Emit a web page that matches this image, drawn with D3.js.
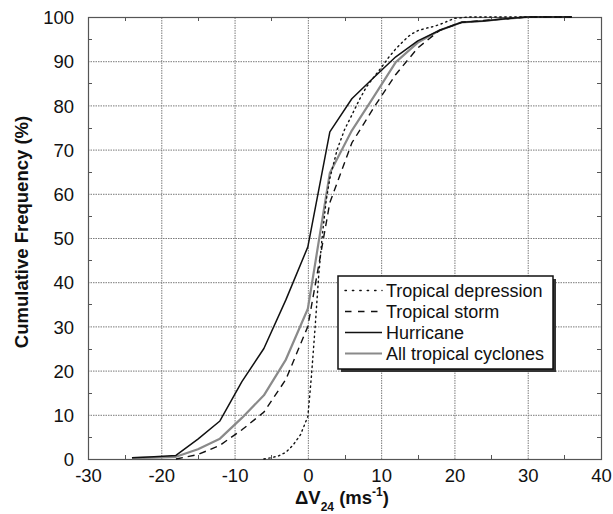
<!DOCTYPE html>
<html>
<head>
<meta charset="utf-8">
<script src="https://cdn.jsdelivr.net/npm/d3@7"></script>
<style>
  html, body { margin: 0; padding: 0; background: #fff; }
  svg { display: block; font-family: "Liberation Sans", Arial, Helvetica, sans-serif; }
  .grid line { stroke: #7a7a7a; stroke-width: 1px; stroke-dasharray: 1.5 1; }
  .grid .domain { display: none; }
</style>
</head>
<body>
<svg id="chart" width="613" height="514"></svg>
<script>
// ---- Data ----
const xTicks = [-30, -20, -10, 0, 10, 20, 30, 40];
const yTicks = [0, 10, 20, 30, 40, 50, 60, 70, 80, 90, 100];
const xMinor = [-25, -15, -5, 5, 15, 25, 35];
const yMinor = [5, 15, 25, 35, 45, 55, 65, 75, 85, 95];

const depressionX = [-6, -5, -4, -3, -2, -1, 0, 0.5, 1, 1.5, 2, 2.5, 3, 4, 5, 6, 7, 8, 9, 10, 11, 12, 13, 14, 15, 16, 17, 18, 19, 20, 22, 24, 27, 30, 33, 36];
const depressionY = [0, 0.3, 0.7, 1.5, 3.2, 5.5, 9.6, 19, 30, 42, 51, 58.5, 63.5, 70, 74.5, 77.8, 81.2, 84.2, 86.4, 88.5, 90.8, 92.8, 94.5, 96, 96.9, 97.4, 97.8, 98.3, 99, 99.7, 100, 100, 100, 100, 100, 100];

const stormX = [-18, -15, -12, -9, -6, -3, 0, 3, 6, 9, 12, 15, 18, 21, 24, 27, 30, 33, 36];
const stormY = [0, 1.0, 3.1, 6.6, 10.6, 18, 30, 58, 71.5, 79.5, 87, 93, 97, 98.8, 99.2, 99.6, 100, 100, 100];

const hurricaneX = [-24, -21, -18, -15, -12, -9, -6, -3, 0, 3, 6, 9, 12, 15, 18, 21, 24, 27, 30, 33, 36];
const hurricaneY = [0.3, 0.5, 0.8, 4.5, 8.6, 17.5, 25, 36, 48, 74, 81.5, 86.3, 91, 94.6, 97, 98.8, 99.1, 99.6, 100, 100, 100];

const allX = [-24, -21, -18, -15, -12, -9, -6, -3, 0, 3, 6, 9, 12, 15, 18, 21, 24, 27, 30, 33, 36];
const allY = [0.2, 0.3, 0.5, 2.2, 4.6, 9.3, 14.4, 22.5, 34, 64.7, 74.3, 82, 89.8, 94.2, 97, 98.8, 99.1, 99.6, 100, 100, 100];

const seriesNames = ["Tropical depression", "Tropical storm", "Hurricane", "All tropical cyclones"];

// ---- Layout ----
const svg = d3.select("#chart");
const L = 88, R = 601, T = 17, B = 459;
const x = d3.scaleLinear().domain([-30, 40]).range([L, R]);
const y = d3.scaleLinear().domain([0, 100]).range([B, T]);
const px = v => Math.round(v) + 0.5;

const styles = [
  { stroke: "#111", width: 1.4, dash: "1.4,3.6", cap: "round" },
  { stroke: "#111", width: 1.4, dash: "7,5", cap: "butt" },
  { stroke: "#111", width: 1.5, dash: null, cap: "butt" },
  { stroke: "#8a8a8a", width: 2.2, dash: null, cap: "butt" }
];

// grid via D3 axes with full-length ticks
svg.append("g").attr("class", "grid").attr("transform", `translate(0,${B})`)
  .call(d3.axisBottom(x).tickValues(xTicks.slice(1, -1)).tickSize(-(B - T)).tickFormat(""));
svg.append("g").attr("class", "grid").attr("transform", `translate(${L},0)`)
  .call(d3.axisLeft(y).tickValues(yTicks.slice(1, -1)).tickSize(-(R - L)).tickFormat(""));

// axes labels
const fontSize = 18.5;
const axB = svg.append("g").attr("transform", `translate(0,${B})`)
  .call(d3.axisBottom(x).tickValues(xTicks).tickSize(0).tickPadding(6).tickFormat(d => String(d)));
const axL = svg.append("g").attr("transform", `translate(${L},0)`)
  .call(d3.axisLeft(y).tickValues(yTicks).tickSize(0).tickPadding(14).tickFormat(d => String(d)));
[axB, axL].forEach(a => {
  a.select(".domain").remove();
  a.selectAll("text").attr("font-size", fontSize).attr("fill", "#111")
    .attr("font-family", "'Liberation Sans', Arial, sans-serif");
});
axB.selectAll("text").attr("dy", "0.92em");
axL.selectAll("text").attr("dy", "0.36em");

// minor inward ticks on all four sides
const tk = svg.append("g").attr("stroke", "#555").attr("stroke-width", 1);
xMinor.forEach(v => {
  tk.append("line").attr("x1", px(x(v))).attr("x2", px(x(v))).attr("y1", B).attr("y2", B - 4);
  tk.append("line").attr("x1", px(x(v))).attr("x2", px(x(v))).attr("y1", T).attr("y2", T + 4);
});
yMinor.forEach(v => {
  tk.append("line").attr("y1", px(y(v))).attr("y2", px(y(v))).attr("x1", L).attr("x2", L + 4);
  tk.append("line").attr("y1", px(y(v))).attr("y2", px(y(v))).attr("x1", R).attr("x2", R - 4);
});

// frame
svg.append("rect").attr("x", L + 0.5).attr("y", T + 0.5).attr("width", R - L).attr("height", B - T)
  .attr("fill", "none").attr("stroke", "#555").attr("stroke-width", 1.2);

// series
const seriesData = [
  d3.zip(depressionX, depressionY),
  d3.zip(stormX, stormY),
  d3.zip(hurricaneX, hurricaneY),
  d3.zip(allX, allY)
];
const line = d3.line().x(d => x(d[0])).y(d => y(d[1]));
[3, 0, 1, 2].forEach(i => {
  const s = styles[i];
  svg.append("path").datum(seriesData[i]).attr("d", line)
    .attr("fill", "none").attr("stroke", s.stroke).attr("stroke-width", s.width)
    .attr("stroke-dasharray", s.dash).attr("stroke-linecap", s.cap)
    .attr("stroke-linejoin", "round");
});

// legend
const lg = svg.append("g");
const lx = 338, ly = 276, lw = 215, lh = 93;
lg.append("rect").attr("x", lx + 3).attr("y", ly + 3).attr("width", lw).attr("height", lh).attr("fill", "#333");
lg.append("rect").attr("x", lx).attr("y", ly).attr("width", lw).attr("height", lh)
  .attr("fill", "#fff").attr("stroke", "#111").attr("stroke-width", 1.5);
seriesNames.forEach((name, i) => {
  const cy = 290.5 + i * 21;
  const s = styles[i];
  lg.append("line").attr("x1", 345).attr("x2", 382).attr("y1", cy).attr("y2", cy)
    .attr("stroke", s.stroke).attr("stroke-width", s.width)
    .attr("stroke-dasharray", i === 0 ? "1.4,6" : (i === 1 ? "6.5,6.5" : null))
    .attr("stroke-linecap", s.cap);
  lg.append("text").attr("x", 386).attr("y", cy + 6.3).attr("font-size", 18)
    .attr("fill", "#111").text(name);
});

// x-axis title
const xt = svg.append("text").attr("x", 342).attr("y", 504).attr("text-anchor", "middle")
  .attr("font-size", 18.5).attr("font-weight", "bold").attr("fill", "#111");
xt.append("tspan").text("ΔV");
xt.append("tspan").attr("font-size", 12).attr("dy", 7).text("24");
xt.append("tspan").attr("dy", -7).text(" (ms");
xt.append("tspan").attr("font-size", 12).attr("dy", -8).text("-1");
xt.append("tspan").attr("dy", 8).text(")");

// y-axis title
svg.append("text").attr("transform", "translate(28,232) rotate(-90)")
  .attr("text-anchor", "middle").attr("font-size", 18.5).attr("font-weight", "bold")
  .attr("fill", "#111").text("Cumulative Frequency (%)");
</script>
</body>
</html>
